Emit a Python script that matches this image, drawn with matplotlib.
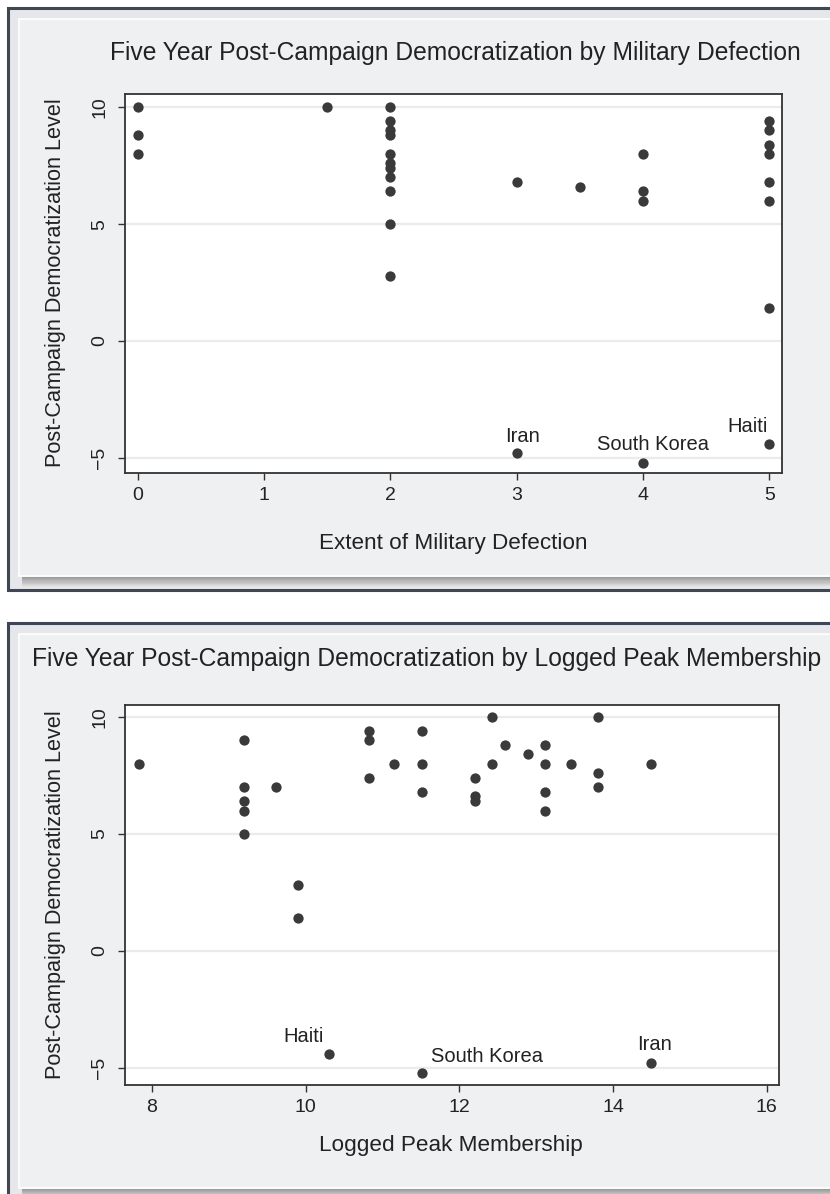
import matplotlib
matplotlib.use("Agg")
import matplotlib.pyplot as plt
from matplotlib.patches import Rectangle

plt.rcParams['font.family'] = ['Liberation Sans', 'DejaVu Sans']

# panel 1: extent of military defection vs democratization
mil_defection = [0, 0, 0, 1.5,
                 2, 2, 2, 2, 2, 2, 2, 2, 2, 2, 2,
                 3, 3, 3.5, 4, 4, 4, 4,
                 5, 5, 5, 5, 5, 5, 5, 5]
mil_demo = [10, 8.8, 8.0, 10,
            10, 9.4, 9.0, 8.8, 8.0, 7.6, 7.4, 7.0, 6.4, 5.0, 2.8,
            6.8, -4.8, 6.6, 8.0, 6.4, 6.0, -5.2,
            9.4, 9.0, 8.4, 8.0, 6.8, 6.0, 1.4, -4.4]
mil_names = ['', '', '', '',
             '', '', '', '', '', '', '', '', '', '', '',
             '', 'Iran', '', '', '', '', 'South Korea',
             '', '', '', '', '', '', '', 'Haiti']

# panel 2: logged peak membership vs democratization
peak_members = [7.83, 9.2, 9.2, 9.2, 9.2, 9.2, 9.61, 9.9, 9.9, 10.31,
                10.82, 10.82, 10.82, 11.15, 11.51, 11.51, 11.51, 11.51,
                12.2, 12.2, 12.2, 12.43, 12.43, 12.6, 12.89,
                13.12, 13.12, 13.12, 13.12, 13.45, 13.81, 13.81, 13.81,
                14.5, 14.5]
peak_demo = [8.0, 9.0, 7.0, 6.4, 6.0, 5.0, 7.0, 2.8, 1.4, -4.4,
             9.4, 9.0, 7.4, 8.0, 9.4, 8.0, 6.8, -5.2,
             7.4, 6.6, 6.4, 10.0, 8.0, 8.8, 8.4,
             8.8, 8.0, 6.8, 6.0, 8.0, 10.0, 7.6, 7.0,
             8.0, -4.8]
peak_names = ['', '', '', '', '', '', '', '', '', 'Haiti',
              '', '', '', '', '', '', '', 'South Korea',
              '', '', '', '', '', '', '',
              '', '', '', '', '', '', '', '',
              '', 'Iran']

W, H = 830, 1194
fig = plt.figure(figsize=(W / 100, H / 100), dpi=100)
fig.patch.set_facecolor('white')

# background panels drawn in pixel space
bg = fig.add_axes([0, 0, 1, 1])
bg.set_xlim(0, W)
bg.set_ylim(H, 0)
bg.axis('off')


def panel(top, bottom):
    bg.add_patch(Rectangle((8, top), 840, bottom - top, facecolor='#e6e7ea',
                           edgecolor='#3f4656', lw=2.2))
    bg.add_patch(Rectangle((19, top + 11), 830, bottom - top - 25,
                           facecolor='#eff0f2', edgecolor='white', lw=1.2))
    sh_top = bottom - 13
    shades = ['#9c9c9c', '#a4a4a4', '#acacac', '#b5b5b5', '#bfbfbf',
              '#c9c9c9', '#d3d3d3', '#dcdcdc', '#e2e3e5', '#e6e7ea']
    for i, c in enumerate(shades):
        bg.add_patch(Rectangle((22, sh_top + i * 1.1), 830, 1.2,
                               facecolor=c, edgecolor='none'))


panel(8, 590)
panel(623, 1202)

dot = '#3a3a3a'
frame = '#333333'
txt = '#222222'


def scatter_panel(rect, xs, ys, names, xlim, ylim, xticks, offsets):
    ax = fig.add_axes(rect)
    ax.set_facecolor('white')
    ax.scatter(xs, ys, s=55, color=dot, linewidths=0, zorder=3, clip_on=False)
    ax.set_xlim(*xlim)
    ax.set_ylim(*ylim)
    ax.set_xticks(xticks)
    ax.set_yticks([-5, 0, 5, 10])
    ax.yaxis.grid(True, color='#ebebeb', lw=1.6)
    ax.set_axisbelow(True)
    for s in ax.spines.values():
        s.set_color(frame)
        s.set_linewidth(1.3)
    ax.tick_params(axis='both', length=5, width=1, color=frame,
                   labelsize=14, labelcolor=txt)
    ax.tick_params(axis='x', pad=5)
    ax.tick_params(axis='y', pad=7)
    for lab in ax.get_yticklabels():
        lab.set_rotation(90)
        lab.set_va('center')
    for x, y, n in zip(xs, ys, names):
        if n:
            dx, dy, ha = offsets[n]
            ax.annotate(n, (x, y), xytext=(dx, dy), textcoords='offset pixels',
                        ha=ha, va='center', fontsize=14.5, color=txt)
    return ax


def frac(left, top, right, bottom):
    return [left / W, 1 - bottom / H, (right - left) / W, (bottom - top) / H]


scatter_panel(frac(125, 94, 782, 473), mil_defection, mil_demo, mil_names,
              (-0.1, 5.1), (-5.64, 10.56), [0, 1, 2, 3, 4, 5],
              {'Iran': (6, 17, 'center'), 'South Korea': (10, 18, 'center'),
               'Haiti': (-22, 17, 'center')})
scatter_panel(frac(125, 705, 779, 1085), peak_members, peak_demo, peak_names,
              (7.65, 16.16), (-5.73, 10.51), [8, 10, 12, 14, 16],
              {'Haiti': (-26, 17, 'center'), 'South Korea': (9, 16, 'left'),
               'Iran': (3, 19, 'center')})

fig.text(455 / W, 1 - 53 / H,
         'Five Year Post-Campaign Democratization by Military Defection',
         ha='center', va='center', fontsize=17.7, color=txt)
fig.text(427 / W, 1 - 659 / H,
         'Five Year Post-Campaign Democratization by Logged Peak Membership',
         ha='center', va='center', fontsize=17.7, color=txt)
fig.text(55 / W, 1 - 283 / H, 'Post-Campaign Democratization Level',
         rotation=90, ha='center', va='center', fontsize=15.6, color=txt)
fig.text(55 / W, 1 - 895 / H, 'Post-Campaign Democratization Level',
         rotation=90, ha='center', va='center', fontsize=15.6, color=txt)
fig.text(453 / W, 1 - 543 / H, 'Extent of Military Defection',
         ha='center', va='center', fontsize=16.2, color=txt)
fig.text(451 / W, 1 - 1146 / H, 'Logged Peak Membership',
         ha='center', va='center', fontsize=16.2, color=txt)

fig.savefig('out.png', dpi=100)
